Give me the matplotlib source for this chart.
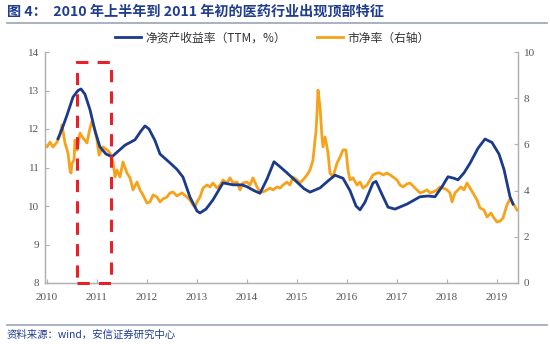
import matplotlib
matplotlib.use("Agg")
import matplotlib.pyplot as plt
from matplotlib.patches import Rectangle
import numpy as np

plt.rcParams['font.family'] = ['Noto Sans CJK SC', 'DejaVu Sans']

# ROE (TTM, %), left axis
roe_t = [2010.22, 2010.30, 2010.40, 2010.52, 2010.62, 2010.68, 2010.76, 2010.86, 2010.96, 2011.06,
         2011.18, 2011.30, 2011.42, 2011.56, 2011.76, 2011.88, 2011.96, 2012.04, 2012.16, 2012.26,
         2012.46, 2012.60, 2012.72, 2012.86, 2013.00, 2013.06, 2013.18, 2013.32, 2013.52, 2013.72,
         2013.90, 2014.00, 2014.14, 2014.26, 2014.40, 2014.54, 2014.66, 2014.80, 2015.00, 2015.14,
         2015.26, 2015.46, 2015.62, 2015.76, 2015.92, 2016.06, 2016.18, 2016.26, 2016.36, 2016.52,
         2016.58, 2016.70, 2016.82, 2016.96, 2017.20, 2017.46, 2017.62, 2017.76, 2017.90, 2018.02,
         2018.14, 2018.22, 2018.34, 2018.46, 2018.62, 2018.76, 2018.90, 2019.04, 2019.14, 2019.26,
         2019.32]
roe_v = [11.75, 12.00, 12.36, 12.83, 13.00, 13.04, 12.90, 12.50, 11.95, 11.53,
         11.35, 11.28, 11.42, 11.58, 11.72, 11.95, 12.08, 12.00, 11.70, 11.35,
         11.12, 10.95, 10.75, 10.23, 9.87, 9.82, 9.92, 10.16, 10.60, 10.55,
         10.55, 10.50, 10.40, 10.33, 10.70, 11.15, 11.02, 10.86, 10.62, 10.45,
         10.36, 10.47, 10.65, 10.80, 10.72, 10.40, 10.00, 9.90, 10.10, 10.60,
         10.64, 10.30, 9.97, 9.92, 10.05, 10.24, 10.26, 10.24, 10.50, 10.76,
         10.72, 10.68, 10.86, 11.11, 11.50, 11.74, 11.65, 11.35, 10.95, 10.24,
         10.05]

# P/B, right axis
pb_t = [2009.96, 2010.00, 2010.06, 2010.12, 2010.20, 2010.26, 2010.30, 2010.36, 2010.42, 2010.46,
        2010.48, 2010.50, 2010.54, 2010.56, 2010.60, 2010.66, 2010.72, 2010.80, 2010.86, 2010.90,
        2010.96, 2011.00, 2011.04, 2011.12, 2011.20, 2011.26, 2011.32, 2011.36, 2011.40, 2011.46,
        2011.52, 2011.60, 2011.66, 2011.72, 2011.80, 2011.86, 2011.92, 2012.00, 2012.06, 2012.12,
        2012.20, 2012.26, 2012.32, 2012.40, 2012.46, 2012.52, 2012.60, 2012.70, 2012.80, 2012.86,
        2012.92, 2012.96, 2013.00, 2013.06, 2013.12, 2013.20, 2013.26, 2013.32, 2013.40, 2013.46,
        2013.52, 2013.60, 2013.66, 2013.72, 2013.80, 2013.86, 2013.92, 2014.00, 2014.06, 2014.12,
        2014.20, 2014.26, 2014.32, 2014.40, 2014.46, 2014.52, 2014.60, 2014.66, 2014.72, 2014.80,
        2014.86, 2014.92, 2015.00, 2015.06, 2015.12, 2015.20, 2015.26, 2015.32, 2015.36, 2015.38,
        2015.40, 2015.42, 2015.46, 2015.50, 2015.52, 2015.56, 2015.60, 2015.62, 2015.66, 2015.72,
        2015.80, 2015.86, 2015.92, 2015.98, 2016.00, 2016.02, 2016.06, 2016.12, 2016.20, 2016.26,
        2016.32, 2016.40, 2016.46, 2016.52, 2016.60, 2016.66, 2016.72, 2016.80, 2016.86, 2016.92,
        2017.00, 2017.06, 2017.12, 2017.20, 2017.26, 2017.32, 2017.40, 2017.46, 2017.52, 2017.60,
        2017.66, 2017.72, 2017.80, 2017.86, 2017.92, 2018.00, 2018.06, 2018.10, 2018.16, 2018.22,
        2018.28, 2018.34, 2018.40, 2018.46, 2018.52, 2018.60, 2018.66, 2018.74, 2018.80, 2018.88,
        2018.94, 2019.00, 2019.06, 2019.12, 2019.20, 2019.26, 2019.32, 2019.40]
pb_v = [5.97, 5.89, 6.10, 5.89, 6.10, 6.41, 6.84, 6.06, 5.63, 4.89,
        4.76, 5.19, 5.32, 6.19, 5.76, 6.49, 6.28, 6.06, 6.71, 7.01,
        6.62, 6.19, 5.54, 5.89, 5.76, 5.63, 5.24, 4.59, 4.89, 4.59,
        5.24, 4.76, 4.55, 4.03, 4.37, 4.03, 3.81, 3.46, 3.51, 3.81,
        3.72, 3.51, 3.64, 3.72, 3.90, 3.94, 3.77, 3.90, 3.72, 3.59,
        3.38, 3.29, 3.51, 3.72, 4.11, 4.24, 4.16, 4.33, 4.11, 4.24,
        4.46, 4.33, 4.55, 4.33, 4.37, 4.03, 4.33, 4.37, 4.24, 4.55,
        4.16, 3.94, 3.94, 4.03, 4.11, 4.03, 4.16, 4.11, 4.24, 4.37,
        4.24, 4.59, 4.46, 4.33, 4.46, 4.68, 4.89, 5.32, 6.19, 6.54,
        7.36, 8.35, 7.62, 6.32, 5.89, 6.32, 5.89, 5.63, 4.76, 4.59,
        5.19, 5.45, 5.76, 5.76, 5.32, 4.89, 4.46, 4.55, 4.24, 4.37,
        4.11, 4.24, 4.46, 4.68, 4.76, 4.76, 4.68, 4.76, 4.68, 4.59,
        4.46, 4.24, 4.16, 4.29, 4.33, 4.20, 4.03, 3.90, 3.94, 4.03,
        3.90, 3.94, 4.03, 4.16, 4.11, 4.03, 3.90, 3.51, 3.90, 4.03,
        4.16, 4.03, 4.33, 4.11, 3.90, 3.59, 3.25, 3.16, 2.86, 3.03,
        2.81, 2.64, 2.68, 2.81, 3.38, 3.64, 3.46, 3.16]

years = list(range(2010, 2020))
left_ticks = [8, 9, 10, 11, 12, 13, 14]
right_ticks = [0, 2, 4, 6, 8, 10]

navy = '#1b3a8a'
orange = '#f7a21b'

fig = plt.figure(figsize=(5.5, 3.44), dpi=100)
ax = fig.add_axes([45/550, 1-283/344, (518-45)/550, (283-52)/344])
ax2 = ax.twinx()

l1, = ax.plot(roe_t, roe_v, color=navy, lw=2.0, zorder=3)
l2, = ax2.plot(pb_t, pb_v, color=orange, lw=2.0, zorder=2)
ax.set_zorder(ax2.get_zorder() + 1)
ax.patch.set_visible(False)

ax.set_xlim(2009.96, 2019.42)
ax.set_ylim(8, 14)
ax2.set_ylim(0, 10)
ax.set_xticks(years)
ax.set_xticklabels([str(y) for y in years])
ax.set_yticks(left_ticks)
ax2.set_yticks(right_ticks)

for a in (ax, ax2):
    for s in a.spines.values():
        s.set_color('#b0b0b0')
        s.set_linewidth(0.9)
    a.spines['top'].set_visible(False)
    a.tick_params(direction='in', length=3, color='#b0b0b0', labelsize=8,
                  labelcolor='#555555', pad=4)
    for lab in a.get_xticklabels() + a.get_yticklabels():
        lab.set_family('Liberation Serif')
ax.tick_params(axis='x', pad=7)

# red dashed box 2010 H1 - early 2011
rect = Rectangle((2010.6, 8), 2011.28 - 2010.6, 13.74 - 8, fill=False,
                 edgecolor='#e8202a', lw=2.2, linestyle=(0, (4, 3)), clip_on=False, zorder=5)
ax.add_patch(rect)

fig.legend([l1, l2], ['净资产收益率（TTM，%）', '市净率（右轴）'], loc='center',
           bbox_to_anchor=(0.495, 1-38/344), ncol=2, frameon=False, fontsize=8.5,
           handlelength=2.2, handletextpad=0.4, columnspacing=2.6, labelcolor='#333333')

fig.text(0.012, 1-12/344, '图 4：  2010 年上半年到 2011 年初的医药行业出现顶部特征',
         fontsize=10.2, fontweight='bold', color='#1f3d8f', va='center', ha='left')
fig.add_artist(plt.Line2D([0.012, 0.995], [1-23/344, 1-23/344], color='#9aa4b6', lw=1.2))
fig.add_artist(plt.Line2D([0.012, 0.995], [1-325/344, 1-325/344], color='#9aa4b6', lw=1.2))
fig.text(0.012, 1-335/344, '资料来源：wind，安信证券研究中心', fontsize=7.5,
         color='#1f3d8f', va='center', ha='left', style='italic')

fig.savefig('out.png', dpi=100)
